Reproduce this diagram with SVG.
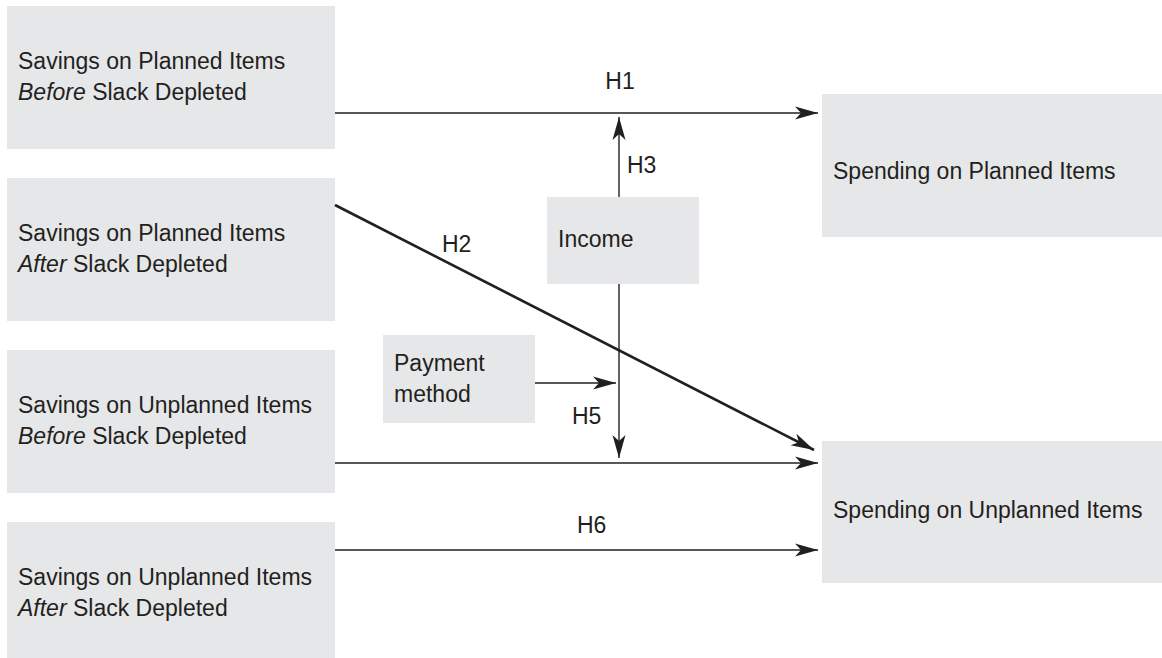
<svg xmlns="http://www.w3.org/2000/svg" width="1162" height="658" viewBox="0 0 1162 658">
<style>
.box{fill:#e6e7e9;stroke:none}
text{font-family:"Liberation Sans",Arial,sans-serif;font-size:23px;fill:#231f20}
.it{font-style:italic}
.ln{stroke:#231f20;stroke-width:1.4;fill:none}
.thick{stroke:#231f20;stroke-width:2.6;fill:none}
</style>
<defs>
<marker id="ah" markerUnits="userSpaceOnUse" markerWidth="24" markerHeight="14" refX="23" refY="7" orient="auto" viewBox="0 0 24 14">
<path d="M0,0.5 L23,7 L0,13.5 L6,7 Z" fill="#231f20"/>
</marker>
</defs>
<rect width="1162" height="658" fill="#ffffff"/>
<g id="n1"><rect class="box" x="7" y="6" width="328" height="143"/><text x="18" y="69">Savings on Planned Items</text><text x="18" y="100"><tspan class="it">Before</tspan> Slack Depleted</text></g>
<g id="n2"><rect class="box" x="7" y="178" width="328" height="143"/><text x="18" y="241">Savings on Planned Items</text><text x="18" y="272"><tspan class="it">After</tspan> Slack Depleted</text></g>
<g id="n3"><rect class="box" x="7" y="350" width="328" height="143"/><text x="18" y="413">Savings on Unplanned Items</text><text x="18" y="444"><tspan class="it">Before</tspan> Slack Depleted</text></g>
<g id="n4"><rect class="box" x="7" y="522" width="328" height="143"/><text x="18" y="585">Savings on Unplanned Items</text><text x="18" y="616"><tspan class="it">After</tspan> Slack Depleted</text></g>
<g id="n5"><rect class="box" x="822" y="94" width="340" height="143"/><text x="833" y="179">Spending on Planned Items</text></g>
<g id="n6"><rect class="box" x="822" y="441" width="340" height="142"/><text x="833" y="518">Spending on Unplanned Items</text></g>
<g id="n7"><rect class="box" x="547" y="197" width="152" height="87"/><text x="558" y="247">Income</text></g>
<g id="n8"><rect class="box" x="383" y="335" width="152" height="88"/><text x="394" y="371">Payment</text><text x="394" y="402">method</text></g>
<g id="connectors">
<line class="ln" x1="335" y1="113" x2="818" y2="113" marker-end="url(#ah)"/>
<line class="thick" x1="335" y1="205" x2="814" y2="450" marker-end="url(#ah)"/>
<line class="ln" x1="619" y1="197" x2="619" y2="117" marker-end="url(#ah)"/>
<line class="ln" x1="619" y1="284" x2="619" y2="458" marker-end="url(#ah)"/>
<line class="ln" x1="535" y1="383" x2="616" y2="383" marker-end="url(#ah)"/>
<line class="ln" x1="335" y1="463" x2="818" y2="463" marker-end="url(#ah)"/>
<line class="ln" x1="335" y1="550" x2="818" y2="550" marker-end="url(#ah)"/>
</g>
<g id="labels">
<text x="620" y="89" text-anchor="middle">H1</text>
<text x="442" y="252">H2</text>
<text x="627" y="173">H3</text>
<text x="572" y="424">H5</text>
<text x="577" y="533">H6</text>
</g>
</svg>
